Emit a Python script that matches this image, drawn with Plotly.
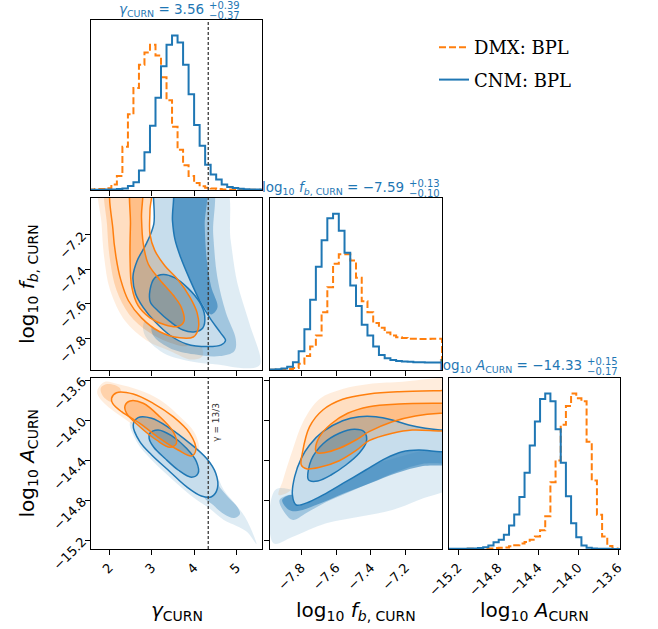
import numpy as np
import plotly.graph_objects as go

# ---------------- marginal histograms (normalised step heights) ----------------
GAMMA_BIN_START, GAMMA_BIN_WIDTH = 1.53, 0.13
GAMMA_CNM = [0.002, 0.002, 0.002, 0.003, 0.004, 0.006, 0.010, 0.026, 0.050, 0.126,
             0.245, 0.416, 0.597, 0.800, 0.940, 1.000, 0.955, 0.810, 0.620, 0.420,
             0.286, 0.164, 0.100, 0.068, 0.036, 0.020, 0.013, 0.008, 0.005, 0.004,
             0.003, 0.002]
GAMMA_DMX = [0.004, 0.006, 0.006, 0.012, 0.036, 0.090, 0.280, 0.490, 0.660, 0.810,
             0.890, 0.940, 0.870, 0.730, 0.580, 0.410, 0.260, 0.160, 0.090, 0.045,
             0.025, 0.015, 0.010, 0.006, 0.004, 0.003, 0.002, 0.002, 0.001, 0.001,
             0.001, 0.001]

FB_BIN_START, FB_BIN_WIDTH = -7.98, 0.033
FB_CNM = [0.003, 0.005, 0.010, 0.020, 0.050, 0.120, 0.260, 0.450, 0.660, 0.830,
          0.970, 1.000, 0.890, 0.750, 0.540, 0.410, 0.290, 0.220, 0.150, 0.096,
          0.075, 0.064, 0.058, 0.054, 0.052, 0.050, 0.049, 0.048, 0.048, 0.048]
FB_DMX = [0.002, 0.003, 0.004, 0.006, 0.012, 0.040, 0.090, 0.150, 0.220, 0.370,
          0.530, 0.680, 0.740, 0.740, 0.700, 0.590, 0.440, 0.370, 0.300, 0.270,
          0.240, 0.220, 0.210, 0.205, 0.200, 0.200, 0.198, 0.198, 0.200, 0.200]

LA_BIN_START, LA_BIN_WIDTH = -15.31, 0.0517
LA_CNM = [0.001, 0.001, 0.002, 0.002, 0.003, 0.004, 0.006, 0.011, 0.022, 0.043,
          0.060, 0.091, 0.151, 0.222, 0.335, 0.490, 0.665, 0.820, 0.965, 1.000,
          0.950, 0.770, 0.555, 0.340, 0.166, 0.076, 0.022, 0.008, 0.003, 0.002,
          0.001, 0.001, 0.000, 0.000]
LA_DMX = [0.000, 0.000, 0.000, 0.000, 0.001, 0.001, 0.002, 0.003, 0.004, 0.006,
          0.008, 0.010, 0.017, 0.024, 0.035, 0.045, 0.060, 0.080, 0.120, 0.210,
          0.430, 0.570, 0.800, 0.920, 1.000, 0.970, 0.950, 0.690, 0.440, 0.220,
          0.080, 0.020, 0.004, 0.000]

# ---------------- 2-D credible regions (outer / inner contour vertices) ----------------
# gamma vs log10 f_b
GF_CNM_OUTER = [(3.10, -6.90), (3.05, -7.14), (2.88, -7.25), (2.66, -7.35), (2.56, -7.44),
                (2.62, -7.54), (2.80, -7.62), (3.07, -7.70), (3.43, -7.78), (3.82, -7.83),
                (4.33, -7.845), (4.64, -7.835), (4.74, -7.81), (4.62, -7.765), (4.37, -7.68),
                (4.13, -7.58), (3.90, -7.46), (3.68, -7.33), (3.55, -7.23), (3.49, -7.12),
                (3.47, -6.90)]
GF_CNM_INNER = [(2.96, -7.52), (3.07, -7.45), (3.27, -7.43), (3.55, -7.45), (3.86, -7.51),
                (4.13, -7.59), (4.25, -7.67), (4.20, -7.74), (4.02, -7.76), (3.74, -7.75),
                (3.43, -7.70), (3.15, -7.64), (2.97, -7.59)]
GF_DMX_OUTER = [(2.09, -6.90), (2.09, -7.18), (2.16, -7.33), (2.27, -7.46), (2.45, -7.58),
                (2.76, -7.68), (3.19, -7.76), (3.66, -7.795), (3.98, -7.79), (4.10, -7.74),
                (4.07, -7.65), (3.90, -7.56), (3.62, -7.46), (3.31, -7.38), (3.07, -7.29),
                (2.96, -7.20), (2.96, -7.06), (2.97, -6.90)]
GF_DMX_INNER = [(2.53, -6.90), (2.50, -7.14), (2.49, -7.33), (2.53, -7.50), (2.68, -7.61),
                (2.96, -7.68), (3.31, -7.72), (3.62, -7.73), (3.76, -7.70), (3.70, -7.62),
                (3.51, -7.55), (3.19, -7.46), (2.92, -7.37), (2.80, -7.25), (2.76, -7.10),
                (2.76, -6.90)]
# sample clouds outside the contours (sparse halo first, then denser cores)
GF_DMX_CLOUDS = [
    [(1.78, -6.90), (1.82, -7.14), (1.88, -7.33), (2.02, -7.52), (2.38, -7.70),
     (2.88, -7.81), (3.43, -7.87), (3.95, -7.92), (4.20, -7.90), (4.10, -7.80),
     (3.70, -7.70), (3.00, -7.40), (2.60, -7.10), (2.50, -6.90)],
    [(1.92, -6.90), (1.95, -7.15), (2.02, -7.35), (2.17, -7.52), (2.47, -7.66),
     (2.92, -7.76), (3.40, -7.82), (3.85, -7.84), (3.95, -7.78), (3.50, -7.60),
     (2.60, -7.40), (2.30, -7.10), (2.30, -6.90)],
]
GF_CNM_CLOUDS = [
    [(3.45, -6.90), (4.70, -6.90), (4.86, -7.23), (5.02, -7.48), (5.30, -7.71),
     (5.55, -7.95), (5.20, -7.97), (4.60, -7.95), (3.90, -7.93), (3.20, -7.87),
     (2.80, -7.75), (3.20, -7.50), (3.40, -7.10)],
    [(3.47, -6.90), (4.40, -6.90), (4.45, -7.20), (4.55, -7.45), (4.75, -7.65),
     (4.98, -7.80), (4.95, -7.87), (4.60, -7.90), (4.00, -7.89), (3.40, -7.85),
     (3.00, -7.76), (3.40, -7.50), (3.45, -7.14)],
    [(3.47, -6.90), (4.25, -6.90), (4.25, -7.15), (4.30, -7.35), (4.40, -7.50),
     (4.55, -7.62), (4.40, -7.66), (4.15, -7.58), (3.90, -7.46), (3.68, -7.33),
     (3.55, -7.23), (3.49, -7.12)],
]

# gamma vs log10 A
GA_CNM_OUTER = [(2.565, -14.05), (2.68, -13.977), (3.00, -13.983), (3.43, -14.083),
                (3.90, -14.233), (4.29, -14.383), (4.51, -14.533), (4.55, -14.683),
                (4.41, -14.767), (4.17, -14.76), (3.82, -14.667), (3.43, -14.517),
                (3.00, -14.35), (2.72, -14.217)]
GA_CNM_INNER = [(2.957, -14.133), (3.153, -14.10), (3.467, -14.157), (3.82, -14.283),
                (4.055, -14.417), (4.094, -14.533), (3.937, -14.573), (3.624, -14.50),
                (3.31, -14.383), (3.05, -14.273), (2.94, -14.183)]
GA_DMX_OUTER = [(2.055, -13.783), (2.17, -13.727), (2.565, -13.74), (3.035, -13.833),
                (3.506, -13.967), (3.898, -14.133), (4.04, -14.30), (3.937, -14.36),
                (3.624, -14.30), (3.19, -14.183), (2.72, -14.033), (2.29, -13.917),
                (2.08, -13.833)]
GA_DMX_INNER = [(2.37, -13.86), (2.49, -13.81), (2.80, -13.833), (3.19, -13.967),
                (3.506, -14.117), (3.584, -14.233), (3.43, -14.273), (3.114, -14.20),
                (2.72, -14.067), (2.41, -13.933)]
GA_DMX_CLOUDS = [
    [(1.74, -13.683), (1.90, -13.617), (2.20, -13.64), (2.70, -13.70),
     (3.20, -13.80), (3.70, -13.98), (4.00, -14.12), (4.12, -14.30),
     (3.95, -14.40), (3.50, -14.32), (2.90, -14.15), (2.30, -13.97),
     (1.90, -13.84), (1.72, -13.74)],
    [(1.80, -13.68), (1.95, -13.64), (2.25, -13.68), (2.25, -13.80),
     (2.05, -13.82), (1.85, -13.76)],
]
GA_CNM_CLOUDS = [
    [(2.50, -14.02), (2.65, -14.22), (3.00, -14.40), (3.50, -14.60),
     (4.00, -14.78), (4.35, -14.88), (4.70, -15.00), (5.00, -15.06),
     (5.25, -15.12), (5.47, -15.24), (5.40, -15.15), (5.20, -14.97),
     (4.95, -14.83), (4.70, -14.70), (4.50, -14.52), (4.30, -14.38)],
    [(4.30, -14.72), (4.48, -14.60), (4.62, -14.68), (4.82, -14.78),
     (5.02, -14.87), (5.08, -14.94), (4.95, -14.98), (4.70, -14.94),
     (4.42, -14.84), (4.25, -14.78)],
]

# log10 f_b vs log10 A
FA_CNM_OUTER = [(-6.90, -14.10), (-7.00, -14.10), (-7.086, -14.083), (-7.181, -14.05),
                (-7.276, -14.00), (-7.371, -13.967), (-7.467, -13.967), (-7.562, -14.007),
                (-7.676, -14.117), (-7.752, -14.25), (-7.80, -14.383), (-7.838, -14.567),
                (-7.851, -14.75), (-7.829, -14.85), (-7.752, -14.817), (-7.657, -14.733),
                (-7.543, -14.617), (-7.429, -14.50), (-7.314, -14.383), (-7.219, -14.317),
                (-7.124, -14.30), (-7.00, -14.317), (-6.90, -14.32)]
FA_CNM_INNER = [(-7.762, -14.583), (-7.743, -14.40), (-7.676, -14.24), (-7.581, -14.133),
                (-7.495, -14.093), (-7.438, -14.117), (-7.425, -14.217), (-7.467, -14.333),
                (-7.543, -14.45), (-7.629, -14.55), (-7.705, -14.61), (-7.752, -14.607)]
FA_DMX_OUTER = [(-7.80, -14.45), (-7.794, -14.333), (-7.752, -14.067), (-7.676, -13.90),
                (-7.562, -13.793), (-7.41, -13.74), (-7.238, -13.717), (-7.00, -13.707),
                (-6.90, -13.705), (-6.90, -14.11), (-7.00, -14.11), (-7.162, -14.10),
                (-7.276, -14.133), (-7.41, -14.207), (-7.486, -14.307), (-7.581, -14.407),
                (-7.695, -14.473), (-7.771, -14.487)]
FA_DMX_INNER = [(-7.718, -14.30), (-7.695, -14.167), (-7.629, -14.04), (-7.533, -13.933),
                (-7.41, -13.867), (-7.238, -13.84), (-7.00, -13.833), (-6.90, -13.833),
                (-6.90, -13.933), (-7.00, -13.933), (-7.143, -13.96), (-7.276, -14.017),
                (-7.41, -14.117), (-7.486, -14.20), (-7.581, -14.283), (-7.667, -14.327),
                (-7.71, -14.327)]
FA_DMX_CLOUDS = [
    [(-6.90, -13.60), (-7.238, -13.62), (-7.41, -13.64), (-7.562, -13.69),
     (-7.695, -13.79), (-7.79, -14.02), (-7.848, -14.29), (-7.905, -14.60),
     (-7.93, -14.75), (-7.86, -14.70), (-7.82, -14.50), (-7.78, -14.30),
     (-7.70, -14.00), (-7.50, -13.80), (-7.20, -13.72), (-6.90, -13.72)],
]
FA_CNM_CLOUDS = [
    [(-7.95, -14.70), (-7.96, -15.233), (-7.848, -15.167), (-7.657, -15.033),
     (-7.467, -14.967), (-7.276, -14.90), (-7.124, -14.80), (-6.90, -14.63),
     (-6.90, -14.30), (-7.40, -14.45), (-7.80, -14.70)],
    [(-7.851, -14.75), (-7.925, -14.80), (-7.89, -14.94), (-7.848, -15.00),
     (-7.771, -14.93), (-7.657, -14.82), (-7.524, -14.72), (-7.39, -14.62),
     (-7.238, -14.51), (-7.105, -14.44), (-6.90, -14.41), (-6.90, -14.30),
     (-7.219, -14.317), (-7.429, -14.50), (-7.657, -14.733), (-7.829, -14.85)],
    [(-7.851, -14.75), (-7.91, -14.80), (-7.87, -14.90), (-7.82, -14.91),
     (-7.70, -14.84), (-7.55, -14.73), (-7.40, -14.63), (-7.25, -14.53),
     (-7.10, -14.46), (-6.90, -14.43), (-6.90, -14.32), (-7.22, -14.32),
     (-7.43, -14.50), (-7.66, -14.73), (-7.83, -14.85)],
]

# ---------------- axes, ticks, labels ----------------
GAMMA_RANGE = [1.57, 5.60]
FB_RANGE = [-7.98, -6.99]
LA_RANGE = [-15.29, -13.58]
GAMMA_TICKS = [2, 3, 4, 5]
FB_TICKS = [-7.8, -7.6, -7.4, -7.2]
LA_TICKS = [-15.2, -14.8, -14.4, -14.0, -13.6]
GAMMA_REF = 13 / 3

SERIES = ["DMX: BPL", "CNM: BPL"]
CNM_COLOR = "#1f77b4"
DMX_COLOR = "#ff7f0e"
DMX_CLOUD_ALPHA = [0.14, 0.24]
CNM_CLOUD_ALPHA = [0.14, 0.32, 0.55]

W, H = 658, 629
COLS_PX = [(91, 262), (270, 442), (449, 620)]
ROWS_PX = [(20, 190), (198, 370), (378, 549)]


def xdom(c):
    return [COLS_PX[c][0] / W, COLS_PX[c][1] / W]


def ydom(r):
    return [1 - ROWS_PX[r][1] / H, 1 - ROWS_PX[r][0] / H]


def fmt(v, nd):
    return f"{v:.{nd}f}".replace("-", "\u2212")


def rgba(hexc, a):
    h = hexc.lstrip("#")
    return f"rgba({int(h[0:2],16)},{int(h[2:4],16)},{int(h[4:6],16)},{a})"


fig = go.Figure()


def step_hist(start, width, heights, color, dash, ax, name=None):
    n = len(heights)
    edges = start + width * np.arange(n + 1)
    xs = np.concatenate([[edges[0]], edges, [edges[-1]]])
    ys = np.concatenate([[0.0], heights, [heights[-1]], [0.0]])
    fig.add_trace(go.Scatter(
        x=xs, y=ys, mode="lines", line=dict(color=color, width=2, shape="hv", dash=dash),
        xaxis="x" + ax, yaxis="y" + ax, name=name or "", showlegend=name is not None,
        legendgroup=name or None, hoverinfo="skip"))


def closed(pts):
    xs = [p[0] for p in pts] + [pts[0][0]]
    ys = [p[1] for p in pts] + [pts[0][1]]
    return xs, ys


def region(pts, ax, fillcolor):
    xs, ys = closed(pts)
    fig.add_trace(go.Scatter(
        x=xs, y=ys, mode="lines", fill="toself", fillcolor=fillcolor,
        line=dict(width=0, shape="spline", smoothing=1.0, color=fillcolor),
        xaxis="x" + ax, yaxis="y" + ax, showlegend=False, hoverinfo="skip"))


def outline(pts, ax, color):
    xs, ys = closed(pts)
    fig.add_trace(go.Scatter(
        x=xs, y=ys, mode="lines",
        line=dict(width=1.5, shape="spline", smoothing=1.0, color=color),
        xaxis="x" + ax, yaxis="y" + ax, showlegend=False, hoverinfo="skip"))


# --- diagonal panels ---
step_hist(GAMMA_BIN_START, GAMMA_BIN_WIDTH, GAMMA_DMX, DMX_COLOR, "7px,3px", "", SERIES[0])
step_hist(GAMMA_BIN_START, GAMMA_BIN_WIDTH, GAMMA_CNM, CNM_COLOR, "solid", "", SERIES[1])
step_hist(FB_BIN_START, FB_BIN_WIDTH, FB_DMX, DMX_COLOR, "7px,3px", "3")
step_hist(FB_BIN_START, FB_BIN_WIDTH, FB_CNM, CNM_COLOR, "solid", "3")
step_hist(LA_BIN_START, LA_BIN_WIDTH, LA_DMX, DMX_COLOR, "7px,3px", "6")
step_hist(LA_BIN_START, LA_BIN_WIDTH, LA_CNM, CNM_COLOR, "solid", "6")

# --- off-diagonal panels ---
PANELS = [
    ("2", GF_DMX_CLOUDS, GF_CNM_CLOUDS, (GF_DMX_OUTER, GF_DMX_INNER), (GF_CNM_OUTER, GF_CNM_INNER)),
    ("4", GA_DMX_CLOUDS, GA_CNM_CLOUDS, (GA_DMX_OUTER, GA_DMX_INNER), (GA_CNM_OUTER, GA_CNM_INNER)),
    ("5", FA_DMX_CLOUDS, FA_CNM_CLOUDS, (FA_DMX_OUTER, FA_DMX_INNER), (FA_CNM_OUTER, FA_CNM_INNER)),
]

for ax, dmx_clouds, cnm_clouds, dmx, cnm in PANELS:
    for pts, a in zip(dmx_clouds, DMX_CLOUD_ALPHA):
        region(pts, ax, rgba(DMX_COLOR, a))
    for pts, a in zip(cnm_clouds, CNM_CLOUD_ALPHA):
        region(pts, ax, rgba(CNM_COLOR, a))
    # samples inside the outermost level are masked
    region(dmx[0], ax, "white")
    region(cnm[0], ax, "white")
    region(dmx[0], ax, rgba(DMX_COLOR, 0.26))
    region(dmx[1], ax, rgba(DMX_COLOR, 0.32))
    region(cnm[0], ax, rgba(CNM_COLOR, 0.25))
    region(cnm[1], ax, rgba(CNM_COLOR, 0.34))
    outline(cnm[0], ax, CNM_COLOR)
    outline(cnm[1], ax, CNM_COLOR)
    outline(dmx[0], ax, DMX_COLOR)
    outline(dmx[1], ax, DMX_COLOR)

# ---------------- layout ----------------
base_axis = dict(showline=True, linecolor="black", linewidth=1, mirror=True,
                 ticks="outside", ticklen=5, tickwidth=1, tickcolor="black",
                 showgrid=False, zeroline=False, tickangle=-45, automargin=False,
                 tickfont=dict(family="DejaVu Sans", size=13, color="black"))


def value_axis(rng, ticks, nd, labels, dom, anchor):
    d = dict(base_axis)
    d.update(range=rng, tickmode="array", tickvals=ticks,
             ticktext=[fmt(t, nd) for t in ticks], showticklabels=labels,
             domain=dom, anchor=anchor)
    return d


def hist_yaxis(heights_a, heights_b, dom, anchor):
    d = dict(base_axis)
    d.update(range=[0, 1.1 * max(max(heights_a), max(heights_b))], ticks="",
             showticklabels=False, domain=dom, anchor=anchor)
    return d


layout_axes = dict(
    xaxis=value_axis(GAMMA_RANGE, GAMMA_TICKS, 0, False, xdom(0), "y"),
    yaxis=hist_yaxis(GAMMA_CNM, GAMMA_DMX, ydom(0), "x"),
    xaxis2=value_axis(GAMMA_RANGE, GAMMA_TICKS, 0, False, xdom(0), "y2"),
    yaxis2=value_axis(FB_RANGE, FB_TICKS, 1, True, ydom(1), "x2"),
    xaxis3=value_axis(FB_RANGE, FB_TICKS, 1, False, xdom(1), "y3"),
    yaxis3=hist_yaxis(FB_CNM, FB_DMX, ydom(1), "x3"),
    xaxis4=value_axis(GAMMA_RANGE, GAMMA_TICKS, 0, True, xdom(0), "y4"),
    yaxis4=value_axis(LA_RANGE, LA_TICKS, 1, True, ydom(2), "x4"),
    xaxis5=value_axis(FB_RANGE, FB_TICKS, 1, True, xdom(1), "y5"),
    yaxis5=value_axis(LA_RANGE, LA_TICKS, 1, False, ydom(2), "x5"),
    xaxis6=value_axis(LA_RANGE, LA_TICKS, 1, True, xdom(2), "y6"),
    yaxis6=hist_yaxis(LA_CNM, LA_DMX, ydom(2), "x6"),
)

shapes = []
for xr, yr in [("x", "y domain"), ("x2", "y2 domain"), ("x4", "y4 domain")]:
    shapes.append(dict(type="line", xref=xr, yref=yr, x0=GAMMA_REF, x1=GAMMA_REF, y0=0, y1=1,
                       line=dict(color="#3a3a3a", width=1.3, dash="3px,2px")))

TXT = "DejaVu Sans"
annotations = []


def ann(text, x, y, size, color="black", xanchor="center", yanchor="middle", angle=0, xref="paper", yref="paper"):
    annotations.append(dict(text=text, x=x, y=y, xref=xref, yref=yref, showarrow=False,
                            xanchor=xanchor, yanchor=yanchor, textangle=angle,
                            font=dict(family=TXT, size=size, color=color)))


# titles above the diagonal panels: median with asymmetric errors
TITLES = [
    ("<i>\u03b3</i><sub>CURN</sub> = 3.56", "+0.39", "\u22120.37", 206, 10),
    ("log<sub>10</sub> <i>f</i><sub><i>b</i>, CURN</sub> = \u22127.59", "+0.13", "\u22120.10", 406, 188),
    ("log<sub>10</sub> <i>A</i><sub>CURN</sub> = \u221214.33", "+0.15", "\u22120.17", 584, 366),
]
for main, up, dn, xr_px, yc_px in TITLES:
    ann(main, xr_px / W, 1 - yc_px / H, 13.5, CNM_COLOR, xanchor="right")
    ann(up, (xr_px + 1) / W, 1 - (yc_px - 5) / H, 10, CNM_COLOR, xanchor="left")
    ann(dn, (xr_px + 1) / W, 1 - (yc_px + 5) / H, 10, CNM_COLOR, xanchor="left")

# axis labels
ann("<i>\u03b3</i><sub>CURN</sub>", sum(xdom(0)) / 2, 1 - 611 / H, 20)
ann("log<sub>10</sub> <i>f</i><sub><i>b</i>, CURN</sub>", sum(xdom(1)) / 2, 1 - 611 / H, 20)
ann("log<sub>10</sub> <i>A</i><sub>CURN</sub>", sum(xdom(2)) / 2, 1 - 611 / H, 20)
ann("log<sub>10</sub> <i>f</i><sub><i>b</i>, CURN</sub>", 28 / W, sum(ydom(1)) / 2, 20, angle=-90)
ann("log<sub>10</sub> <i>A</i><sub>CURN</sub>", 28 / W, sum(ydom(2)) / 2, 20, angle=-90)

# reference slope marker
ann("\u03b3 = 13/3", 4.51, -14.02, 9, "#333333", angle=-90, xref="x4", yref="y4")

fig.update_layout(
    width=W, height=H, margin=dict(l=0, r=0, t=0, b=0, autoexpand=False),
    paper_bgcolor="white", plot_bgcolor="white",
    shapes=shapes, annotations=annotations,
    legend=dict(x=434 / W, y=1 - 29 / H, xanchor="left", yanchor="top",
                font=dict(family="DejaVu Serif", size=18, color="black"),
                bgcolor="rgba(0,0,0,0)", tracegroupgap=6),
    **layout_axes,
)

fig.write_html("out.html")
